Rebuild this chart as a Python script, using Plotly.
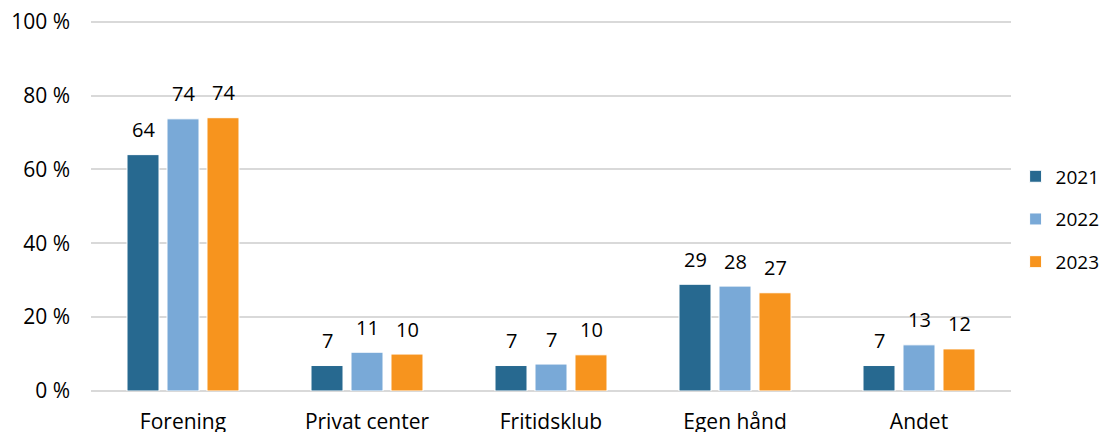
import plotly.graph_objects as go

categories = ["Forening", "Privat center", "Fritidsklub", "Egen hånd", "Andet"]
years = ["2021", "2022", "2023"]
values_2021 = [64.0, 6.9, 6.9, 28.9, 6.9]
values_2022 = [73.7, 10.5, 7.3, 28.4, 12.5]
values_2023 = [74.0, 10.0, 9.8, 26.6, 11.4]
labels_2021 = ["64", "7", "7", "29", "7"]
labels_2022 = ["74", "11", "7", "28", "13"]
labels_2023 = ["74", "10", "10", "27", "12"]
y_tickvals = [0, 20, 40, 60, 80, 100]
y_ticktext = ["0 %", "20 %", "40 %", "60 %", "80 %", "100 %"]

colors = ["#276990", "#79A9D7", "#F7941E"]
series = [values_2021, values_2022, values_2023]
labels = [labels_2021, labels_2022, labels_2023]
FONT = "Open Sans"

fig = go.Figure()
for i, (yr, vals) in enumerate(zip(years, series)):
    fig.add_trace(go.Bar(
        name=yr, x=categories, y=vals,
        marker=dict(color=colors[i], line=dict(color="white", width=1)),
        legendgroup=yr,
    ))

shifts = [-40, 0, 40]
annotations = []
for i in range(3):
    for c, v, t in zip(categories, series[i], labels[i]):
        annotations.append(dict(
            x=c, y=v, text=t, showarrow=False, xshift=shifts[i], yshift=25,
            yanchor="middle", font=dict(family=FONT, size=20, color="#000000"),
        ))

# page body adds an 8px offset; the figure is sized to fit the window after it
fig.update_layout(
    width=1108, height=424,
    margin=dict(l=83, r=105, t=10.3, b=41),
    paper_bgcolor="white", plot_bgcolor="white",
    barmode="group", bargap=0.348, bargroupgap=0.2,
    font=dict(family=FONT, size=20, color="#000000"),
    showlegend=True,
    legend=dict(x=1.005, xanchor="left", y=0.46, yanchor="middle",
                tracegroupgap=15, font=dict(family=FONT, size=19),
                itemclick=False, bgcolor="rgba(0,0,0,0)"),
    annotations=annotations,
)
fig.update_xaxes(showgrid=False, showline=False, ticks="", ticklabelstandoff=16,
                 automargin=False, ticklabeloverflow="allow",
                 tickfont=dict(family=FONT, size=21, color="#000000"))
fig.update_yaxes(range=[0, 101], tickvals=y_tickvals, ticktext=y_ticktext,
                 showgrid=True, gridcolor="#D9D9D9", gridwidth=1.5,
                 zeroline=True, zerolinecolor="#D9D9D9", zerolinewidth=1.5,
                 showline=False, ticks="", ticklabelstandoff=20, automargin=False,
                 ticklabeloverflow="allow",
                 tickfont=dict(family=FONT, size=21, color="#000000"))

fig.write_html("out.html")
